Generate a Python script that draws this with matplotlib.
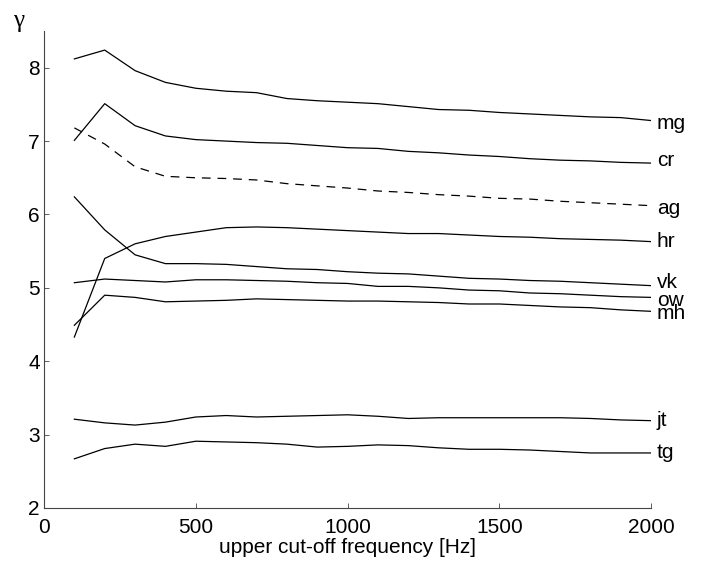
import matplotlib
matplotlib.use('Agg')
import matplotlib.pyplot as plt

plt.rcParams['font.family'] = ['Liberation Sans', 'DejaVu Sans']
plt.rcParams['font.size'] = 15

# ===== DADOS =====
freq = [100, 200, 300, 400, 500, 600, 700, 800, 900, 1000,
        1100, 1200, 1300, 1400, 1500, 1600, 1700, 1800, 1900, 2000]

mg = [8.12, 8.24, 7.96, 7.80, 7.72, 7.68, 7.66, 7.58, 7.55, 7.53,
      7.51, 7.47, 7.43, 7.42, 7.39, 7.37, 7.35, 7.33, 7.32, 7.28]
cr = [7.01, 7.51, 7.21, 7.07, 7.02, 7.00, 6.98, 6.97, 6.94, 6.91,
      6.90, 6.86, 6.84, 6.81, 6.79, 6.76, 6.74, 6.73, 6.71, 6.70]
ag = [7.18, 6.96, 6.65, 6.52, 6.50, 6.49, 6.47, 6.42, 6.39, 6.36,
      6.32, 6.30, 6.27, 6.25, 6.22, 6.21, 6.18, 6.16, 6.14, 6.12]
hr = [4.33, 5.40, 5.60, 5.70, 5.76, 5.82, 5.83, 5.82, 5.80, 5.78,
      5.76, 5.74, 5.74, 5.72, 5.70, 5.69, 5.67, 5.66, 5.65, 5.63]
vk = [6.24, 5.79, 5.45, 5.33, 5.33, 5.32, 5.29, 5.26, 5.25, 5.22,
      5.20, 5.19, 5.16, 5.13, 5.12, 5.10, 5.09, 5.07, 5.05, 5.03]
ow = [5.07, 5.12, 5.10, 5.08, 5.11, 5.11, 5.10, 5.09, 5.07, 5.06,
      5.02, 5.02, 5.00, 4.97, 4.96, 4.93, 4.92, 4.90, 4.88, 4.87]
mh = [4.49, 4.90, 4.87, 4.81, 4.82, 4.83, 4.85, 4.84, 4.83, 4.82,
      4.82, 4.81, 4.80, 4.78, 4.78, 4.76, 4.74, 4.73, 4.70, 4.68]
jt = [3.21, 3.16, 3.13, 3.17, 3.24, 3.26, 3.24, 3.25, 3.26, 3.27,
      3.25, 3.22, 3.23, 3.23, 3.23, 3.23, 3.23, 3.22, 3.20, 3.19]
tg = [2.67, 2.81, 2.87, 2.84, 2.91, 2.90, 2.89, 2.87, 2.83, 2.84,
      2.86, 2.85, 2.82, 2.80, 2.80, 2.79, 2.77, 2.75, 2.75, 2.75]

speakers = ['mg', 'cr', 'ag', 'hr', 'vk', 'ow', 'mh', 'jt', 'tg']
series = [mg, cr, ag, hr, vk, ow, mh, jt, tg]

xticks = [0, 500, 1000, 1500, 2000]
yticks = [2, 3, 4, 5, 6, 7, 8]

# deslocamento vertical dos rótulos (pontos) para separar vk/ow/mh
AJUSTE_ROTULO = {'mg': -2, 'cr': 2, 'ag': -2, 'vk': 2, 'ow': -2, 'mh': -1.5}

# ===== FIGURA =====
fig = plt.figure(figsize=(7.04, 5.62), dpi=100)
ax = fig.add_axes([0.0625, 0.0961, 0.8625, 0.8487])

for nome, vals in zip(speakers, series):
    estilo = (0, (7, 5.5)) if nome == 'ag' else '-'
    ax.plot(freq, vals, color='black', linewidth=0.9, linestyle=estilo)
    ax.annotate(nome, xy=(freq[-1], vals[-1]),
                xytext=(4, AJUSTE_ROTULO.get(nome, 0)),
                textcoords='offset points', va='center', ha='left',
                annotation_clip=False)

ax.set_xlim(0, 2000)
ax.set_ylim(2, 8.5)
ax.set_xticks(xticks)
ax.set_yticks(yticks)
ax.tick_params(direction='in', length=3.6, width=0.6, color='#444444')
ax.tick_params(axis='y', pad=3)
ax.tick_params(axis='x', pad=7)

for lado in ['top', 'right']:
    ax.spines[lado].set_visible(False)
for lado in ['left', 'bottom']:
    ax.spines[lado].set_linewidth(0.8)
    ax.spines[lado].set_color('#444444')

ax.set_xlabel('upper cut-off frequency [Hz]', labelpad=1)
fig.text(0.027, 0.962, 'γ', ha='center', va='center', fontsize=18,
         family=['Liberation Serif', 'DejaVu Serif'])

plt.savefig('out.png', dpi=100)
plt.close()
